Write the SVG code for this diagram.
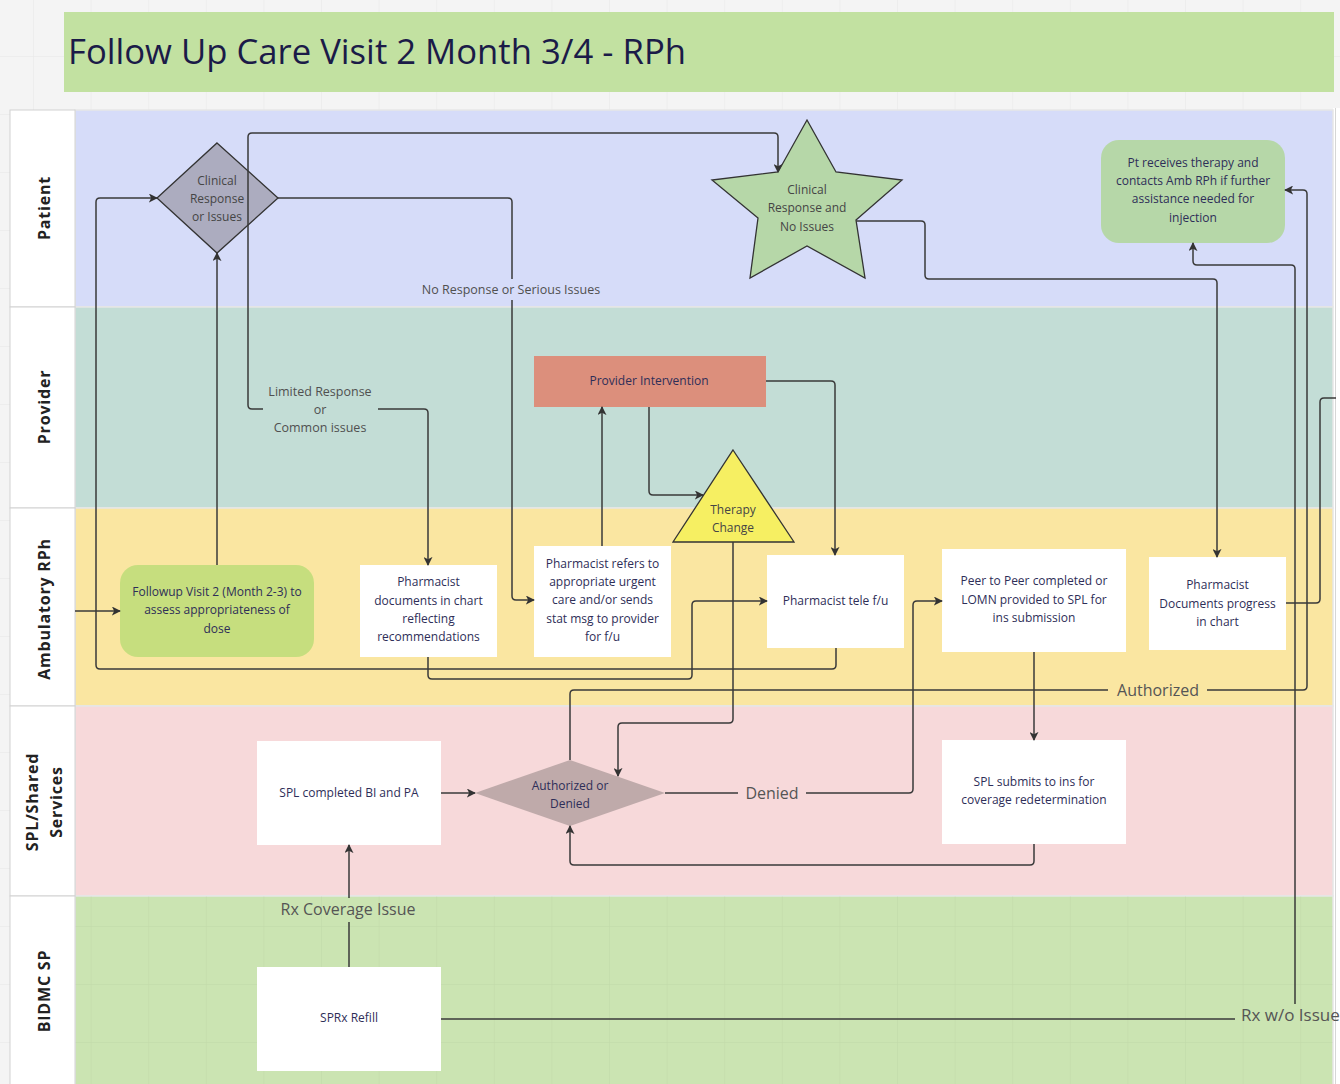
<svg xmlns="http://www.w3.org/2000/svg" width="1340" height="1084" viewBox="0 0 1340 1084">
  <defs>
    <pattern id="grid" patternUnits="userSpaceOnUse" x="34" y="-1" width="57.6" height="58">
      <path d="M57.6 0 V58 M0 58 H57.6" fill="none" stroke="#000" stroke-opacity="0.05" stroke-width="1"/>
    </pattern>
    <marker id="arrow" viewBox="0 0 10 10" refX="9" refY="5" markerWidth="9" markerHeight="9" markerUnits="userSpaceOnUse" orient="auto">
      <path d="M0 0 L10 5 L0 10 L2.5 5 Z" fill="#333"/>
    </marker>
    <style>
      .lane-label { font-family: "Open Sans", "DejaVu Sans", sans-serif; font-size: 16px; font-weight: bold; fill: #222; letter-spacing: 0.8px; text-anchor: middle; }
      .lane-col { fill: #ffffff; stroke: #d2d2d2; stroke-width: 1; }
      .lane { stroke: #e6e6e6; stroke-width: 1.5; }
      .box { fill: #ffffff; }
      .t { font-family: "Open Sans", "DejaVu Sans", sans-serif; font-size: 12px; fill: #2e2e58; text-anchor: middle; }
      .tg { font-family: "Open Sans", "DejaVu Sans", sans-serif; font-size: 12px; fill: #454545; text-anchor: middle; }
      .lbl { font-family: "Open Sans", "DejaVu Sans", sans-serif; font-size: 12.5px; fill: #505050; text-anchor: middle; }
      .lbl-big { font-family: "Open Sans", "DejaVu Sans", sans-serif; font-size: 16px; fill: #555555; text-anchor: middle; }
      .conn path { fill: none; stroke: #3a3a3a; stroke-width: 1.5; }
      .conn path.a { marker-end: url(#arrow); }
    </style>
  </defs>

  <!-- canvas -->
  <rect x="0" y="0" width="1340" height="1084" fill="#f4f4f4"/>
  <rect x="0" y="0" width="1340" height="1084" fill="url(#grid)"/>

  <!-- title -->
  <g id="title">
    <rect x="64" y="12" width="1270" height="80" fill="#c2e1a1"/>
    <text x="68" y="64" font-family="'Open Sans', 'DejaVu Sans', sans-serif" font-size="35" fill="#1b1b48" textLength="618" lengthAdjust="spacingAndGlyphs">Follow Up Care Visit 2 Month 3/4 - RPh</text>
  </g>

  <!-- swimlanes -->
  <g id="lanes">
    <rect x="1333" y="108" width="7" height="976" fill="#ffffff"/>
    <line x1="1335.5" y1="108" x2="1335.5" y2="1084" stroke="#d6d6d6" stroke-width="1"/>

    <rect class="lane" x="75" y="110" width="1258" height="197" fill="#d6dcf9"/>
    <rect class="lane" x="75" y="307" width="1258" height="201" fill="#c3ddd6"/>
    <rect class="lane" x="75" y="508" width="1258" height="198" fill="#fae6a1"/>
    <rect class="lane" x="75" y="706" width="1258" height="190" fill="#f7d9da"/>
    <rect class="lane" x="75" y="896" width="1258" height="190" fill="#cbe4b2"/>
    <rect x="75" y="896" width="1258" height="190" fill="url(#grid)"/>

    <rect class="lane-col" x="10" y="110" width="65" height="197"/>
    <rect class="lane-col" x="10" y="307" width="65" height="201"/>
    <rect class="lane-col" x="10" y="508" width="65" height="198"/>
    <rect class="lane-col" x="10" y="706" width="65" height="190"/>
    <rect class="lane-col" x="10" y="896" width="65" height="190"/>

    <text class="lane-label" x="50" y="208" transform="rotate(-90 50 208)">Patient</text>
    <text class="lane-label" x="50" y="407" transform="rotate(-90 50 407)">Provider</text>
    <text class="lane-label" x="50" y="609" transform="rotate(-90 50 609)">Ambulatory RPh</text>
    <text class="lane-label" x="38" y="802" transform="rotate(-90 38 802)">SPL/Shared</text>
    <text class="lane-label" x="62" y="802" transform="rotate(-90 62 802)">Services</text>
    <text class="lane-label" x="50" y="991" transform="rotate(-90 50 991)">BIDMC SP</text>
  </g>

  <!-- nodes -->
  <g id="node-clinical-decision">
    <polygon points="217,143 278,198 217,253 157,198" fill="#acacbf" stroke="#333" stroke-width="1.3"/>
    <text class="tg" x="217" y="185">Clinical</text>
    <text class="tg" x="217" y="203">Response</text>
    <text class="tg" x="217" y="221">or Issues</text>
  </g>

  <g id="node-no-issues">
    <polygon points="807,120 836,172 902,180 856,220 865,278 807,246 750,278 758,218 712,180 778,172" fill="#b6d7a8" stroke="#333" stroke-width="1.3"/>
    <text class="tg" x="807" y="194">Clinical</text>
    <text class="tg" x="807" y="212">Response and</text>
    <text class="tg" x="807" y="231">No Issues</text>
  </g>

  <g id="node-pt-receives">
    <rect x="1101" y="140" width="184" height="103" rx="18" fill="#b6d7a8"/>
    <text class="t" x="1193" y="167">Pt receives therapy and</text>
    <text class="t" x="1193" y="185">contacts Amb RPh if further</text>
    <text class="t" x="1193" y="203">assistance needed for</text>
    <text class="t" x="1193" y="222">injection</text>
  </g>

  <g id="node-provider-intervention">
    <rect x="534" y="356" width="232" height="51" fill="#dc8f7c"/>
    <text class="t" x="649" y="385">Provider Intervention</text>
  </g>

  <g id="node-therapy-change">
    <polygon points="733,450 794,542 673,542" fill="#f6ef62" stroke="#333" stroke-width="1.3"/>
    <text class="tg" x="733" y="514">Therapy</text>
    <text class="tg" x="733" y="532">Change</text>
  </g>

  <g id="node-followup">
    <rect x="120" y="565" width="194" height="92" rx="18" fill="#c6de7e"/>
    <text class="t" x="217" y="596">Followup Visit 2 (Month 2-3) to</text>
    <text class="t" x="217" y="614">assess appropriateness of</text>
    <text class="t" x="217" y="633">dose</text>
  </g>

  <g id="node-pharm-documents">
    <rect class="box" x="360" y="565" width="137" height="92"/>
    <text class="t" x="428.5" y="586">Pharmacist</text>
    <text class="t" x="428.5" y="605">documents in chart</text>
    <text class="t" x="428.5" y="623">reflecting</text>
    <text class="t" x="428.5" y="641">recommendations</text>
  </g>

  <g id="node-pharm-refers">
    <rect class="box" x="534" y="546" width="137" height="111"/>
    <text class="t" x="602.5" y="568">Pharmacist refers to</text>
    <text class="t" x="602.5" y="586">appropriate urgent</text>
    <text class="t" x="602.5" y="604">care and/or sends</text>
    <text class="t" x="602.5" y="623">stat msg to provider</text>
    <text class="t" x="602.5" y="641">for f/u</text>
  </g>

  <g id="node-tele-fu">
    <rect class="box" x="767" y="555" width="137" height="93"/>
    <text class="t" x="835.5" y="605">Pharmacist tele f/u</text>
  </g>

  <g id="node-peer-to-peer">
    <rect class="box" x="942" y="549" width="184" height="103"/>
    <text class="t" x="1034" y="585">Peer to Peer completed or</text>
    <text class="t" x="1034" y="604">LOMN provided to SPL for</text>
    <text class="t" x="1034" y="622">ins submission</text>
  </g>

  <g id="node-documents-progress">
    <rect class="box" x="1149" y="557" width="137" height="93"/>
    <text class="t" x="1217.5" y="589">Pharmacist</text>
    <text class="t" x="1217.5" y="608">Documents progress</text>
    <text class="t" x="1217.5" y="626">in chart</text>
  </g>

  <g id="node-spl-bi-pa">
    <rect class="box" x="257" y="741" width="184" height="104"/>
    <text class="t" x="349" y="797">SPL completed BI and PA</text>
  </g>

  <g id="node-auth-decision">
    <polygon points="570,760 665,793 570,826 475,793" fill="#bfaaaa"/>
    <text class="t" x="570" y="790">Authorized or</text>
    <text class="t" x="570" y="808">Denied</text>
  </g>

  <g id="node-spl-submits">
    <rect class="box" x="942" y="740" width="184" height="104"/>
    <text class="t" x="1034" y="786">SPL submits to ins for</text>
    <text class="t" x="1034" y="804">coverage redetermination</text>
  </g>

  <g id="node-sprx-refill">
    <rect class="box" x="257" y="967" width="184" height="104"/>
    <text class="t" x="349" y="1022">SPRx Refill</text>
  </g>

  <!-- connectors -->
  <g id="connectors" class="conn">
    <path class="a" d="M75 611 H120"/>
    <path class="a" d="M217 565 V253"/>
    <path class="a" d="M836 648 V665 Q836 669 832 669 H100 Q96 669 96 665 V202 Q96 198 100 198 H157"/>
    <path class="a" d="M248 171 V137 Q248 133 252 133 H774 Q778 133 778 137 V172"/>
    <path d="M248 171 V405 Q248 409 252 409 H263"/>
    <path class="a" d="M378 409 H424 Q428 409 428 413 V565"/>
    <path d="M278 198 H508 Q512 198 512 202 V279"/>
    <path class="a" d="M512 300 V596 Q512 600 516 600 H534"/>
    <path class="a" d="M602 546 V407"/>
    <path class="a" d="M649 407 V491 Q649 495 653 495 H703"/>
    <path class="a" d="M766 381 H831 Q835 381 835 385 V555"/>
    <path class="a" d="M428 657 V675 Q428 679 432 679 H688 Q692 679 692 675 V605 Q692 601 696 601 H767"/>
    <path class="a" d="M733 542 V719 Q733 723 729 723 H622 Q618 723 618 727 V776"/>
    <path d="M570 760 V694 Q570 690 574 690 H1108"/>
    <path class="a" d="M1207 690 H1303 Q1307 690 1307 686 V194 Q1307 190 1303 190 H1285"/>
    <path d="M665 793 H738"/>
    <path class="a" d="M806 793 H909 Q913 793 913 789 V605 Q913 601 917 601 H942"/>
    <path class="a" d="M1034 652 V740"/>
    <path class="a" d="M1034 844 V861 Q1034 865 1030 865 H574 Q570 865 570 861 V826"/>
    <path class="a" d="M441 793 H475"/>
    <path d="M349 967 V922"/>
    <path class="a" d="M349 898 V845"/>
    <path d="M441 1019 H1235"/>
    <path class="a" d="M1295 1004 V269 Q1295 265 1291 265 H1197 Q1193 265 1193 261 V243"/>
    <path class="a" d="M856 221 H921 Q925 221 925 225 V275 Q925 279 929 279 H1213 Q1217 279 1217 283 V557"/>
    <path d="M1286 603 H1316 Q1320 603 1320 599 V402 Q1320 398 1324 398 H1336"/>

    <text class="lbl" x="511" y="294">No Response or Serious Issues</text>
    <text class="lbl" x="320" y="396">Limited Response</text>
    <text class="lbl" x="320" y="414">or</text>
    <text class="lbl" x="320" y="432">Common issues</text>
    <text class="lbl-big" x="1158" y="696">Authorized</text>
    <text class="lbl-big" x="772" y="799">Denied</text>
    <text class="lbl-big" x="348" y="915">Rx Coverage Issue</text>
    <text class="lbl-big" x="1241" y="1021" style="text-anchor: start; font-size: 17px">Rx w/o Issue</text>
  </g>
</svg>
